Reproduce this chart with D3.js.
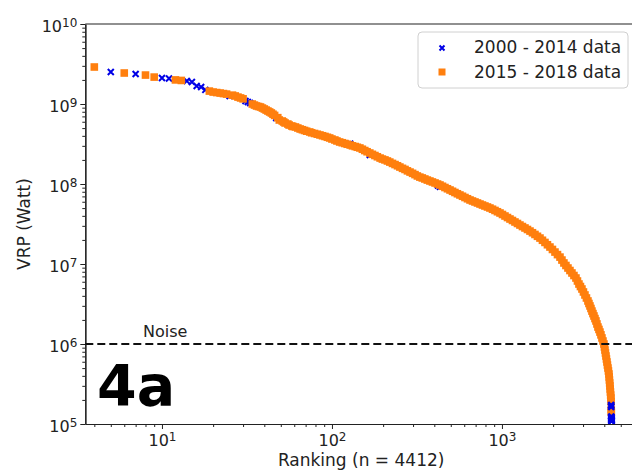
<!DOCTYPE html>
<html>
<head>
<meta charset="utf-8">
<script src="https://cdn.jsdelivr.net/npm/d3@7"></script>
<style>
  body { margin: 0; background: #fff; }
  svg text { font-family: "DejaVu Sans", sans-serif; fill: #222; }
</style>
</head>
<body>
<svg id="my-svg"></svg>
<script>
// 2015 - 2018 data (orange squares): rank and VRP (Watt)
const orangeRank = [4, 6, 8, 9, 12, 13, 19, 20, 21, 22, 23, 24, 26, 27, 28, 29, 30,
  34, 35, 36, 37, 38, 39, 40, 41, 42, 43, 44, 45, 46, 48, 49, 51, 52, 53, 55, 56,
  58, 59, 61, 63, 65, 67, 69, 71, 74, 76, 79, 82, 85, 88, 91, 94, 97, 100,
  104, 107, 111, 115, 119, 123, 128, 132, 137, 141, 146, 151, 156, 161, 167, 173,
  179, 185, 192, 198, 205, 212, 219, 227, 235, 243, 251, 260, 269, 278, 288, 298,
  308, 318, 329, 340, 352, 364, 377, 390, 404, 418, 432, 447, 462, 478, 495, 512,
  529, 547, 566, 586, 606, 627, 649, 671, 694, 718, 743, 768, 794, 822, 850, 880,
  910, 941, 974, 1007, 1042, 1078, 1115, 1153, 1193, 1234, 1276, 1320, 1366, 1413,
  1462, 1512, 1564, 1618, 1674, 1731, 1791, 1852, 1916, 1982, 2051, 2122, 2195,
  2254, 2315, 2379, 2445, 2512, 2581, 2652, 2725, 2781, 2838, 2896, 2955, 3016,
  3078, 3141, 3205, 3249, 3294, 3339, 3384, 3430, 3477, 3525, 3573, 3621, 3670,
  3721, 3772, 3823, 3875, 3928, 3981, 4008, 4036, 4063, 4091, 4118, 4146, 4174,
  4203, 4231, 4260, 4274, 4289, 4303, 4318, 4333, 4348, 4362, 4377, 4385, 4395, 4398];
const orangeVrp = [2.90e9, 2.44e9, 2.30e9, 2.17e9, 2.00e9, 1.97e9, 1.45e9, 1.41e9,
  1.39e9, 1.37e9, 1.35e9, 1.33e9, 1.29e9, 1.26e9, 1.22e9, 1.19e9, 1.16e9,
  1.00e9, 9.7e8, 9.44e8, 9.3e8, 9.17e8, 8.9e8, 8.66e8, 8.4e8, 8.17e8, 7.95e8, 7.72e8,
  7.45e8, 7.2e8, 6.75e8, 6.31e8, 6.13e8, 5.96e8, 5.79e8, 5.62e8, 5.46e8,
  5.31e8, 5.23e8, 5.16e8, 5.01e8, 4.87e8, 4.77e8, 4.67e8, 4.57e8, 4.47e8, 4.37e8,
  4.28e8, 4.19e8, 4.10e8, 4.01e8, 3.93e8, 3.84e8, 3.76e8, 3.65e8,
  3.55e8, 3.45e8, 3.35e8, 3.28e8, 3.21e8, 3.14e8, 3.07e8, 3.00e8, 2.94e8, 2.88e8,
  2.82e8, 2.72e8, 2.62e8, 2.53e8, 2.44e8, 2.35e8,
  2.27e8, 2.19e8, 2.11e8, 2.05e8, 2.00e8, 1.94e8, 1.88e8, 1.81e8, 1.75e8, 1.69e8,
  1.63e8, 1.57e8, 1.52e8, 1.46e8, 1.41e8, 1.36e8,
  1.31e8, 1.26e8, 1.22e8, 1.19e8, 1.155e8, 1.12e8, 1.09e8, 1.06e8, 1.03e8, 1.00e8,
  9.72e7, 9.37e7, 9.04e7, 8.72e7, 8.41e7, 8.11e7,
  7.83e7, 7.55e7, 7.29e7, 7.03e7, 6.78e7, 6.54e7, 6.31e7, 6.13e7, 5.96e7, 5.79e7,
  5.62e7, 5.46e7, 5.31e7, 5.16e7, 5.01e7, 4.84e7,
  4.67e7, 4.50e7, 4.34e7, 4.16e7, 3.98e7, 3.81e7, 3.65e7, 3.50e7, 3.35e7, 3.21e7,
  3.07e7, 2.94e7, 2.82e7, 2.70e7,
  2.58e7, 2.46e7, 2.34e7, 2.22e7, 2.11e7, 1.98e7, 1.86e7, 1.74e7, 1.63e7, 1.52e7,
  1.41e7, 1.31e7, 1.22e7,
  1.12e7, 1.03e7, 9.58e6, 8.91e6, 8.29e6, 7.72e6, 7.18e6, 6.68e6, 6.13e6, 5.62e6,
  5.23e6, 4.87e6, 4.47e6,
  4.10e6, 3.76e6, 3.45e6, 3.21e6, 2.99e6, 2.78e6, 2.58e6, 2.40e6, 2.24e6, 2.08e6,
  1.94e6, 1.78e6, 1.63e6,
  1.52e6, 1.41e6, 1.30e6, 1.19e6, 1.09e6, 1.00e6, 9.17e5, 8.41e5, 7.72e5, 7.08e5,
  6.50e5, 5.96e5, 5.46e5,
  5.01e5, 4.60e5, 4.22e5, 3.87e5, 3.55e5, 3.26e5, 2.99e5, 2.74e5, 2.51e5, 2.30e5,
  2.11e5, 1.90e5, 1.50e5, 1.40e5];

// 2000 - 2014 data (blue crosses)
const blueRank = [5, 7, 10, 11, 14, 15, 16, 17, 18, 25, 31, 32, 33, 47, 128, 167,
  420, 432, 4390, 4392, 4402, 4405, 4408, 4410, 4412];
const blueVrp = [2.51e9, 2.37e9, 2.11e9, 2.08e9, 1.94e9, 1.88e9, 1.68e9, 1.63e9,
  1.50e9, 1.26e9, 1.09e9, 1.06e9, 1.03e9, 6.68e8, 3.2e8, 2.3e8, 9.6e7, 9.2e7,
  1.72e5, 1.64e5, 1.24e5, 1.19e5, 1.15e5, 1.12e5, 1.09e5];

const yTicks = [1e5, 1e6, 1e7, 1e8, 1e9, 1e10];
const xTicks = [10, 100, 1000];
const noiseLevel = 1e6;
const legendLabels = ["2000 - 2014 data", "2015 - 2018 data"];

const W = 632, H = 473;
const mLeft = 85.3, mRight = 637, mTop = 24, mBottom = 424;
const sq = 7.6;

const svg = d3.select("#my-svg")
  .attr("width", W)
  .attr("height", H);

const x = d3.scaleLog().domain([3.54, 6230]).range([mLeft, mRight]);
const y = d3.scaleLog().domain([1e5, 1e10]).range([mBottom, mTop]);

svg.append("defs").append("clipPath").attr("id", "plot-clip")
  .append("rect")
  .attr("x", mLeft).attr("y", mTop)
  .attr("width", mRight - mLeft).attr("height", mBottom - mTop);

// minor ticks
let yMinor = [];
for (let d = 5; d < 10; d++) {
  for (let k = 2; k < 10; k++) yMinor.push(k * Math.pow(10, d));
}
let xMinor = [];
for (let d = 0; d < 4; d++) {
  for (let k = 2; k < 10; k++) {
    let v = k * Math.pow(10, d);
    if (v > x.domain()[0] && v < x.domain()[1]) xMinor.push(v);
  }
}

function styleAxis(g) {
  g.select(".domain").attr("stroke", "#222").attr("stroke-width", 1.2);
  g.selectAll(".tick line").attr("stroke", "#222").attr("stroke-width", 1);
  g.selectAll(".tick text").remove();
}

svg.append("g")
  .attr("transform", `translate(${mLeft},0)`)
  .call(d3.axisLeft(y).tickValues(yMinor).tickSize(3).tickSizeOuter(0).tickFormat(""))
  .call(styleAxis);

let yAxisG = svg.append("g")
  .attr("transform", `translate(${mLeft},0)`)
  .call(d3.axisLeft(y).tickValues(yTicks).tickSize(5).tickSizeOuter(0).tickFormat(""))
  .call(styleAxis);

svg.append("g")
  .attr("transform", `translate(0,${mBottom})`)
  .call(d3.axisBottom(x).tickValues(xMinor).tickSize(3).tickSizeOuter(0).tickFormat(""))
  .call(styleAxis);

let xAxisG = svg.append("g")
  .attr("transform", `translate(0,${mBottom})`)
  .call(d3.axisBottom(x).tickValues(xTicks).tickSize(5).tickSizeOuter(0).tickFormat(""))
  .call(styleAxis);

// top spine
svg.append("line")
  .attr("x1", mLeft).attr("x2", mRight)
  .attr("y1", mTop).attr("y2", mTop)
  .attr("stroke", "#222").attr("stroke-width", 1.2);

// tick labels as 10^n
yAxisG.selectAll(".tick").each(function(d) {
  let t = d3.select(this).append("text")
    .attr("x", -8).attr("y", 7)
    .attr("text-anchor", "end")
    .attr("font-size", 16);
  t.append("tspan").text("10");
  t.append("tspan").attr("dy", -5).attr("font-size", 12).text(Math.round(Math.log10(d)));
});

xAxisG.selectAll(".tick").each(function(d) {
  let t = d3.select(this).append("text")
    .attr("x", 0).attr("y", 22)
    .attr("text-anchor", "middle")
    .attr("font-size", 16);
  t.append("tspan").text("10");
  t.append("tspan").attr("dy", -5).attr("font-size", 12).text(Math.round(Math.log10(d)));
});

// axis titles
svg.append("text")
  .attr("x", (mLeft + mRight) / 2).attr("y", 466)
  .attr("text-anchor", "middle")
  .attr("font-size", 17)
  .text("Ranking (n = 4412)");

svg.append("text")
  .attr("transform", `translate(30,${(mTop + mBottom) / 2}) rotate(-90)`)
  .attr("text-anchor", "middle")
  .attr("font-size", 17)
  .text("VRP (Watt)");

// marks
let plot = svg.append("g").attr("clip-path", "url(#plot-clip)");

const blueData = blueRank.map((r, i) => ({ r, v: blueVrp[i] }));
const orangeData = orangeRank.map((r, i) => ({ r, v: orangeVrp[i] }));
const crossPath = "M-3,-3L3,3M-3,3L3,-3";

plot.selectAll("path.blue")
  .data(blueData)
  .enter().append("path")
    .attr("class", "blue")
    .attr("d", crossPath)
    .attr("transform", d => `translate(${x(d.r)},${y(d.v)})`)
    .attr("fill", "none")
    .attr("stroke", "#0000e6")
    .attr("stroke-width", 2);

plot.selectAll("rect.orange")
  .data(orangeData)
  .enter().append("rect")
    .attr("class", "orange")
    .attr("x", d => x(d.r) - sq / 2)
    .attr("y", d => y(d.v) - sq / 2)
    .attr("width", sq)
    .attr("height", sq)
    .attr("fill", "#ff7f0e");

// bottom blue points are drawn over the orange tail
plot.selectAll("path.blueTop")
  .data(blueData.filter(d => d.r > 4000))
  .enter().append("path")
    .attr("class", "blueTop")
    .attr("d", crossPath)
    .attr("transform", d => `translate(${x(d.r)},${y(d.v)})`)
    .attr("fill", "none")
    .attr("stroke", "#0000e6")
    .attr("stroke-width", 2.5);

// noise level
svg.append("line")
  .attr("x1", mLeft).attr("x2", mRight)
  .attr("y1", y(noiseLevel)).attr("y2", y(noiseLevel))
  .attr("stroke", "#111")
  .attr("stroke-width", 2)
  .attr("stroke-dasharray", "8,4");

svg.append("text")
  .attr("x", 143).attr("y", y(noiseLevel) - 7)
  .attr("font-size", 16)
  .text("Noise");

svg.append("text")
  .attr("x", 97).attr("y", 406)
  .attr("font-family", "'Liberation Sans', Arial, sans-serif")
  .attr("font-weight", "bold")
  .attr("font-size", 57)
  .style("fill", "#000")
  .text("4a");

// legend
let lg = svg.append("g");
lg.append("rect")
  .attr("x", 418).attr("y", 32)
  .attr("width", 210).attr("height", 56)
  .attr("rx", 4)
  .attr("fill", "#fff")
  .attr("fill-opacity", 0.85)
  .attr("stroke", "#d0d0d0");

lg.append("path")
  .attr("d", "M-2.5,-2.5L2.5,2.5M-2.5,2.5L2.5,-2.5")
  .attr("transform", "translate(442,48)")
  .attr("stroke", "#0000e6")
  .attr("stroke-width", 2)
  .attr("fill", "none");
lg.append("rect")
  .attr("x", 438.5).attr("y", 68.5)
  .attr("width", 7).attr("height", 7)
  .attr("fill", "#ff7f0e");

lg.selectAll("text.leg")
  .data(legendLabels)
  .enter().append("text")
    .attr("class", "leg")
    .attr("x", 474)
    .attr("y", (d, i) => 53 + i * 25)
    .attr("font-size", 17)
    .text(d => d);
</script>
</body>
</html>
